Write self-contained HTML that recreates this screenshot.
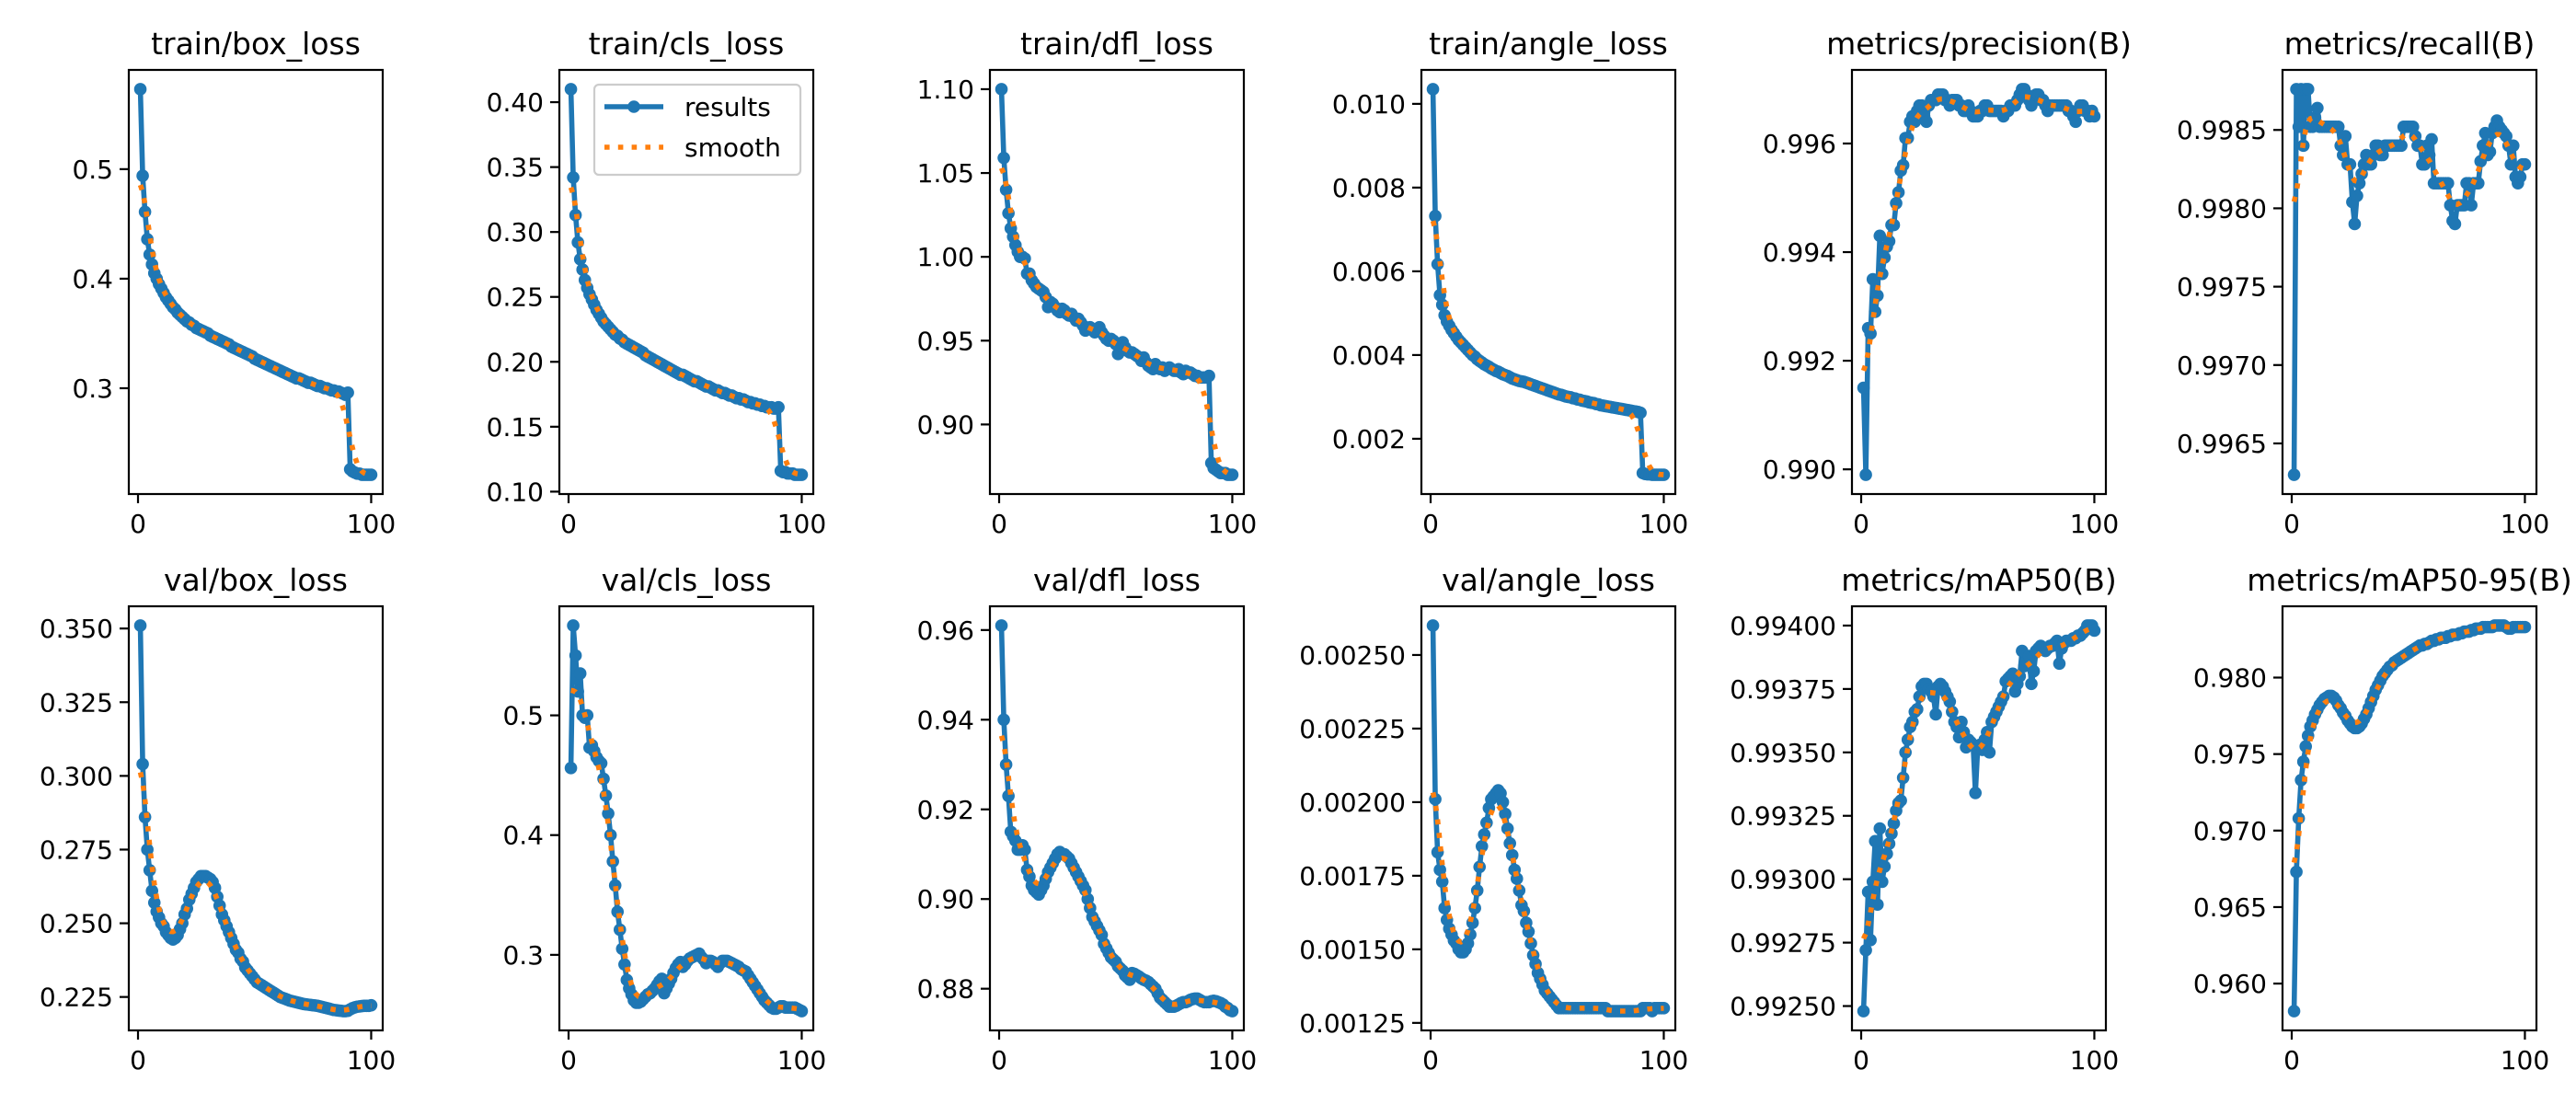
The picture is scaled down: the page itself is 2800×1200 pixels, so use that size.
<!DOCTYPE html>
<html><head><meta charset="utf-8"><style>
html,body{margin:0;padding:0;background:#fff;}
svg{display:block;font-family:"DejaVu Sans","Liberation Sans",sans-serif;}
</style></head><body>
<svg id="fig" width="2800" height="1200" viewBox="0 0 2800 1200" xmlns="http://www.w3.org/2000/svg"></svg>
<script>
const epochs = Array.from({length:100},(_,i)=>i+1);
const titles = ["train/box_loss","train/cls_loss","train/dfl_loss","train/angle_loss","metrics/precision(B)","metrics/recall(B)","val/box_loss","val/cls_loss","val/dfl_loss","val/angle_loss","metrics/mAP50(B)","metrics/mAP50-95(B)"];
const trainBox = [.573,.494,.461,.436,.422,.413,.405,.400,.395,.391,.387,.383,.380,.377,.374,.372,.369,.367,.365,.363,.361,.360,.358,.357,.355,.354,.353,.352,.351,.350,.348,.347,.346,.345,.344,.343,.342,.341,.340,.338,.337,.336,.335,.334,.333,.332,.331,.330,.329,.327,.326,.325,.324,.323,.322,.321,.320,.319,.318,.317,.316,.315,.314,.313,.312,.311,.310,.309,.309,.308,.307,.306,.305,.305,.304,.303,.302,.302,.301,.300,.300,.299,.298,.298,.297,.297,.296,.295,.294,.296,.226,.224,.223,.222,.222,.221,.221,.221,.221,.221];
const trainCls = [.410,.342,.313,.292,.279,.271,.263,.257,.252,.248,.244,.240,.237,.234,.231,.229,.227,.225,.223,.221,.220,.218,.217,.215,.214,.213,.212,.211,.210,.209,.208,.207,.205,.204,.203,.202,.201,.200,.199,.198,.197,.196,.195,.194,.193,.192,.191,.190,.190,.189,.188,.187,.186,.185,.185,.184,.183,.182,.181,.181,.180,.179,.178,.178,.177,.176,.176,.175,.174,.174,.173,.172,.172,.171,.171,.170,.169,.169,.168,.168,.167,.167,.166,.166,.165,.165,.165,.164,.164,.165,.116,.115,.115,.114,.114,.114,.113,.113,.113,.113];
const trainDfl = [1.100,1.059,1.040,1.026,1.017,1.012,1.007,1.003,1.000,1.000,.999,.990,.990,.986,.984,.982,.981,.980,.979,.976,.970,.973,.972,.970,.968,.967,.969,.968,.966,.965,.966,.964,.962,.963,.961,.959,.956,.957,.958,.957,.955,.956,.958,.955,.953,.951,.950,.951,.950,.948,.942,.947,.949,.946,.944,.943,.943,.942,.941,.940,.938,.940,.937,.935,.934,.933,.936,.934,.933,.934,.932,.933,.934,.933,.932,.932,.933,.931,.930,.932,.931,.931,.930,.929,.929,.928,.928,.928,.928,.929,.877,.874,.873,.872,.871,.871,.871,.870,.870,.870];
const trainAngle = [.01035,.00732,.00617,.00543,.00520,.00495,.00480,.00470,.00460,.00452,.00444,.00436,.00430,.00424,.00418,.00412,.00406,.00400,.00396,.00390,.00386,.00382,.00378,.00375,.00372,.00368,.00365,.00362,.00360,.00357,.00354,.00352,.00350,.00347,.00344,.00342,.00340,.00338,.00337,.00336,.00334,.00332,.00330,.00328,.00326,.00324,.00322,.00320,.00318,.00316,.00314,.00312,.00310,.00308,.00306,.00305,.00303,.00301,.00300,.00299,.00297,.00296,.00294,.00293,.00291,.00290,.00289,.00287,.00286,.00285,.00283,.00282,.00280,.00279,.00278,.00277,.00276,.00275,.00274,.00273,.00272,.00271,.00270,.00269,.00268,.00267,.00266,.00265,.00264,.00262,.00118,.00116,.00115,.00115,.00114,.00114,.00114,.00114,.00114,.00114];
const precision = [.9915,.9899,.9926,.9925,.9935,.9929,.9932,.9943,.9936,.9939,.9941,.9942,.9945,.9945,.9949,.9951,.9955,.9956,.9961,.9961,.9964,.9965,.9964,.9966,.9967,.9967,.9965,.9964,.9967,.9968,.9968,.9968,.9969,.9969,.9969,.9968,.9968,.9967,.9968,.9968,.9968,.9967,.9967,.9966,.9966,.9967,.9966,.9965,.9965,.9965,.9966,.9966,.9967,.9967,.9966,.9966,.9966,.9966,.9966,.9966,.9965,.9966,.9966,.9967,.9967,.9967,.9968,.9969,.9970,.9970,.9969,.9968,.9967,.9968,.9969,.9969,.9968,.9968,.9967,.9966,.9967,.9967,.9967,.9967,.9967,.9967,.9967,.9967,.9966,.9966,.9965,.9964,.9966,.9967,.9967,.9966,.9966,.9965,.9966,.9965];
const recall = [.99630,.99876,.99852,.99876,.99840,.99876,.99876,.99852,.99852,.99858,.99864,.99852,.99852,.99852,.99852,.99852,.99852,.99852,.99852,.99852,.99840,.99834,.99846,.99828,.99828,.99804,.99790,.99808,.99816,.99822,.99828,.99834,.99828,.99828,.99834,.99840,.99840,.99834,.99834,.99840,.99840,.99840,.99840,.99840,.99840,.99840,.99840,.99852,.99852,.99852,.99852,.99852,.99846,.99840,.99840,.99828,.99828,.99840,.99834,.99844,.99816,.99816,.99816,.99816,.99816,.99816,.99816,.99802,.99792,.99790,.99802,.99802,.99802,.99802,.99816,.99816,.99802,.99816,.99816,.99816,.99830,.99840,.99848,.99834,.99836,.99848,.99852,.99856,.99852,.99850,.99848,.99846,.99840,.99828,.99840,.99820,.99816,.99820,.99828,.99828];
const valBox = [.351,.304,.286,.275,.268,.261,.257,.254,.252,.250,.249,.247,.246,.245,.2445,.245,.246,.248,.250,.253,.255,.258,.260,.262,.264,.265,.266,.266,.266,.2655,.265,.264,.262,.259,.256,.253,.251,.249,.247,.245,.243,.241,.240,.238,.237,.235,.234,.233,.232,.231,.230,.2295,.229,.2285,.228,.2275,.227,.2265,.226,.2255,.225,.2247,.2244,.2241,.2238,.2236,.2234,.2232,.223,.2228,.2226,.2225,.2224,.2223,.2222,.2221,.222,.2218,.2216,.2214,.2212,.221,.2208,.2206,.2205,.2204,.2203,.2202,.2202,.2203,.2208,.2212,.2215,.2217,.2218,.2219,.222,.222,.222,.2222];
const valCls = [.456,.575,.550,.520,.535,.500,.498,.500,.473,.475,.470,.465,.462,.460,.447,.433,.418,.400,.378,.358,.336,.321,.305,.292,.279,.272,.267,.262,.260,.260,.261,.263,.265,.267,.268,.270,.272,.275,.278,.280,.268,.272,.276,.280,.285,.289,.292,.294,.290,.292,.295,.297,.298,.299,.300,.301,.298,.296,.293,.295,.295,.294,.292,.290,.293,.295,.295,.295,.294,.293,.292,.291,.290,.288,.287,.286,.283,.280,.277,.274,.271,.268,.265,.262,.260,.258,.256,.255,.255,.256,.257,.257,.256,.256,.256,.256,.256,.255,.254,.253];
const valDfl = [.961,.940,.930,.923,.915,.914,.913,.911,.911,.912,.911,.9065,.905,.903,.902,.9015,.901,.902,.903,.9045,.906,.907,.908,.909,.910,.9105,.910,.910,.9095,.909,.908,.907,.906,.905,.904,.903,.902,.900,.898,.896,.895,.894,.893,.892,.890,.889,.888,.887,.8865,.886,.885,.8845,.884,.883,.8825,.882,.8835,.8833,.883,.8827,.8823,.882,.8818,.8815,.881,.8805,.880,.879,.878,.8775,.877,.8765,.876,.876,.876,.8762,.8765,.8768,.877,.877,.8772,.8775,.8777,.8778,.8778,.8775,.8772,.877,.877,.877,.8772,.8773,.8772,.877,.8768,.8765,.876,.8757,.8752,.875];
const valAngle = [.00260,.00201,.00183,.00177,.00173,.00164,.00160,.00157,.00155,.00153,.00152,.00150,.00149,.00149,.00150,.00152,.00155,.00159,.00164,.00170,.00178,.00185,.00189,.00193,.00198,.00201,.00202,.00203,.00204,.00203,.00200,.00196,.00191,.00186,.00182,.00177,.00174,.00170,.00165,.00163,.00159,.00156,.00152,.00148,.00145,.00142,.00140,.00138,.00136,.00135,.00134,.00133,.00132,.00131,.00130,.00130,.00130,.00130,.00130,.00130,.00130,.00130,.00130,.00130,.00130,.00130,.00130,.00130,.00130,.00130,.00130,.00130,.00130,.00130,.00130,.00129,.00129,.00129,.00129,.00129,.00129,.00129,.00129,.00129,.00129,.00129,.00129,.00129,.00129,.00129,.00130,.00130,.00130,.00130,.00129,.00130,.00130,.00130,.00130,.00130];
const map50 = [.99248,.99272,.99295,.99276,.99299,.99315,.99290,.99320,.99299,.99305,.99310,.99314,.99318,.99322,.99327,.99330,.99331,.99340,.99350,.99355,.99360,.99362,.99366,.99367,.99372,.99376,.99377,.99377,.99375,.99374,.99372,.99365,.99376,.99377,.99376,.99374,.99372,.99370,.99366,.99362,.99360,.99356,.99362,.99358,.99352,.99355,.99354,.99353,.99334,.99352,.99353,.99351,.99355,.99358,.99350,.99362,.99364,.99366,.99368,.99370,.99372,.99378,.99379,.99380,.99381,.99374,.99377,.99380,.99390,.99384,.99386,.99388,.99377,.99382,.99390,.99391,.99392,.99391,.99390,.99391,.99392,.99392,.99393,.99394,.99385,.99391,.99393,.99394,.99394,.99394,.99395,.99395,.99396,.99396,.99397,.99398,.99400,.99400,.99400,.99398];
const map5095 = [.9582,.9673,.9708,.9733,.9745,.9755,.9762,.9768,.9772,.9776,.9779,.9782,.9784,.9786,.9787,.9788,.9788,.9787,.9785,.9782,.9780,.9777,.9775,.9772,.9770,.9768,.9767,.9767,.9768,.9770,.9773,.9776,.9780,.9784,.9788,.9792,.9795,.9798,.9801,.9803,.9805,.9807,.9808,.9810,.9811,.9812,.9813,.9814,.9815,.9816,.9817,.9818,.9819,.9820,.9821,.9821,.9822,.9822,.9823,.9824,.9824,.9825,.9825,.9826,.9826,.9826,.9827,.9827,.9828,.9828,.9828,.9829,.9829,.9830,.9830,.9830,.9831,.9831,.9832,.9832,.9832,.9833,.9833,.9833,.9833,.9833,.9834,.9834,.9834,.9834,.9834,.9833,.9832,.9832,.9833,.9833,.9833,.9833,.9833,.9833];
const series = [trainBox,trainCls,trainDfl,trainAngle,precision,recall,valBox,valCls,valDfl,valAngle,map50,map5095];
const yTicks = [[.3,.4,.5],[.10,.15,.20,.25,.30,.35,.40],[.90,.95,1.00,1.05,1.10],[.002,.004,.006,.008,.010],[.990,.992,.994,.996],[.9965,.9970,.9975,.9980,.9985],[.225,.250,.275,.300,.325,.350],[.3,.4,.5],[.88,.90,.92,.94,.96],[.00125,.00150,.00175,.00200,.00225,.00250],[.9925,.99275,.993,.99325,.9935,.99375,.994],[.960,.965,.970,.975,.980]];
const yDecimals = [1,2,2,3,3,4,3,1,2,5,5,3];
const xTicks = [0,100];

const NS="http://www.w3.org/2000/svg";
const svg=document.getElementById('fig');
function mk(tag,attrs,parent){const e=document.createElementNS(NS,tag);for(const k in attrs)e.setAttribute(k,attrs[k]);(parent||svg).appendChild(e);return e;}
function smooth(y,s){const r=Math.round(4*s);const w=[];let sum=0;for(let k=-r;k<=r;k++){const v=Math.exp(-0.5*k*k/(s*s));w.push(v);sum+=v;}
  const n=y.length;const idx=i=>{while(i<0||i>=n){if(i<0)i=-i-1;if(i>=n)i=2*n-i-1;}return i;};
  return y.map((_,i)=>{let a=0;for(let k=-r;k<=r;k++)a+=w[k+r]*y[idx(i+k)];return a/sum;});}

const AW=276, AH=461;
const lefts=[140,608,1076,1545,2013,2481];
const tops=[76,659];
series.forEach((ys,p)=>{
  const L=lefts[p%6], T=tops[Math.floor(p/6)];
  const g=mk('g',{});
  
  
  const xmin=1,xmax=100,xr=xmax-xmin;const x0=xmin-0.05*xr,x1=xmax+0.05*xr;
  const sm=smooth(ys,3);
  let ymn=Math.min(...ys,...sm),ymx=Math.max(...ys,...sm);const yr=ymx-ymn;const y0=ymn-0.05*yr,y1=ymx+0.05*yr;
  const X=v=>L+(v-x0)/(x1-x0)*AW, Y=v=>T+AH-(v-y0)/(y1-y0)*AH;
  const cid='clip'+p;
  const cp=mk('clipPath',{id:cid},g);mk('rect',{x:L,y:T,width:AW,height:AH},cp);
  const pts=ys.map((v,i)=>X(epochs[i]).toFixed(2)+','+Y(v).toFixed(2)).join(' ');
  const data=mk('g',{'clip-path':'url(#'+cid+')'},g);
  const ln=mk('polyline',{points:pts,fill:'none',stroke:'#1f77b4','stroke-width':5.6,'stroke-linejoin':'round','stroke-linecap':'square'},data);
  
  
  ys.forEach((v,i)=>{const c=mk('circle',{cx:X(epochs[i]).toFixed(2),cy:Y(v).toFixed(2),r:6.8,fill:'#1f77b4'},data);
    
    });
  const sp=sm.map((v,i)=>X(epochs[i]).toFixed(2)+','+Y(v).toFixed(2)).join(' ');
  const sl=mk('polyline',{points:sp,fill:'none',stroke:'#ff7f0e','stroke-width':5.6,'stroke-dasharray':'5.6 9.2'},data);
  
  
  mk('rect',{x:L,y:T,width:AW,height:AH,fill:'none',stroke:'#000','stroke-width':2.2},g);
  yTicks[p].forEach(t=>{if(t<y0||t>y1)return;const yy=Y(t);
    mk('line',{x1:L,x2:L-10,y1:yy,y2:yy,stroke:'#000','stroke-width':2.2},g);
    const tx=mk('text',{x:L-17,y:yy+10,'text-anchor':'end','font-size':28,fill:'#000'},g);tx.textContent=t.toFixed(yDecimals[p]);
    
    });
  xTicks.forEach(t=>{const xx=X(t);
    mk('line',{x1:xx,x2:xx,y1:T+AH,y2:T+AH+10,stroke:'#000','stroke-width':2.2},g);
    const tx=mk('text',{x:xx,y:T+AH+42,'text-anchor':'middle','font-size':28,fill:'#000'},g);tx.textContent=String(t);
    
    });
  const tt=mk('text',{x:L+AW/2,y:T-17,'text-anchor':'middle','font-size':33,fill:'#000'},g);tt.textContent=titles[p];
  
  
  if(p===1){
    const lg=mk('g',{},g);
    
    
    mk('rect',{x:646,y:92,width:224,height:98,rx:5,fill:'#fff','fill-opacity':0.8,stroke:'#cccccc','stroke-width':2.2},lg);
    mk('line',{x1:657,x2:721,y1:116,y2:116,stroke:'#1f77b4','stroke-width':5.6},lg);
    mk('circle',{cx:689,cy:116,r:6.8,fill:'#1f77b4'},lg);
    const t1=mk('text',{x:744,y:126,'font-size':28,fill:'#000'},lg);t1.textContent='results';
    
    
    mk('line',{x1:657,x2:721,y1:160,y2:160,stroke:'#ff7f0e','stroke-width':5.6,'stroke-dasharray':'5.6 9.2'},lg);
    const t2=mk('text',{x:744,y:170,'font-size':28,fill:'#000'},lg);t2.textContent='smooth';
    
    
  }
});
</script>
</body></html>
